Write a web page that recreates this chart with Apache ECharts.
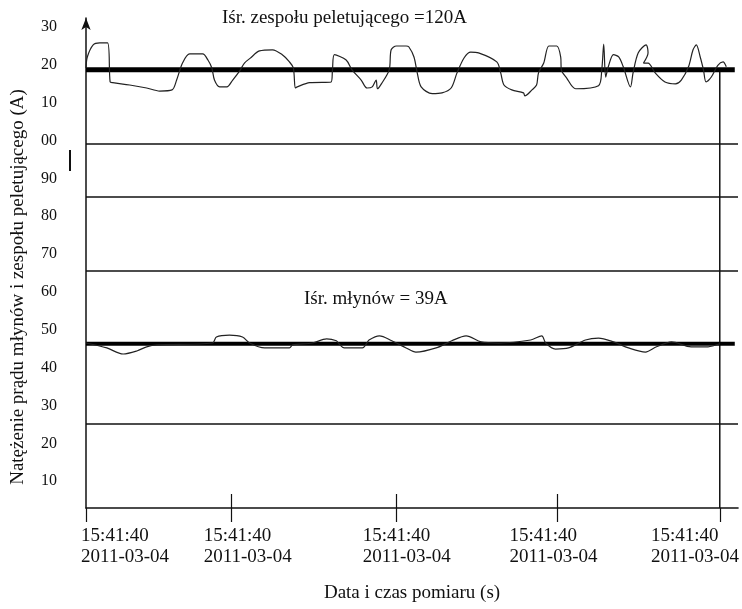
<!DOCTYPE html>
<html>
<head>
<meta charset="utf-8">
<script src="https://cdn.jsdelivr.net/npm/echarts@6/dist/echarts.min.js"></script>
<style>
  html, body { margin: 0; padding: 0; background: #fff; }
  #chart { width: 742px; height: 609px; }
</style>
</head>
<body>
<div id="chart"></div>
<script>
// y axis: labels are printed with the hundreds digit cut off (130 -> "30")
const yTickValues = [10, 20, 30, 40, 50, 60, 70, 80, 90, 100, 110, 120, 130]
const yTickLabels = ['10', '20', '30', '40', '50', '60', '70', '80', '90', '00', '10', '20', '30']

// x axis (measurement progress, 0-100 %), every label is the same timestamp
const xLabelPos = [6.0, 24.8, 49.2, 71.7, 93.4]
const xTickTimes = ['15:41:40', '15:41:40', '15:41:40', '15:41:40', '15:41:40']
const xTickDates = ['2011-03-04', '2011-03-04', '2011-03-04', '2011-03-04', '2011-03-04']
const xTickUp = [22.3, 47.6, 72.2]
const xTickDown = [0, 22.3, 47.6, 72.2, 97.2]

const gridLevels = [99.1, 85.1, 65.6, 25.1]
const meanPellet = 118.7
const meanMill = 46.3
const endX = 97.2

// prąd zespołu peletującego [x, A]
const pelletData = [
  [0, 119.2], [0.2, 122.1], [1.1, 125.3], [2.1, 125.8], [3.3, 125.8], [3.7, 115.5],
  [4.1, 115.3], [6.7, 114.7], [9.3, 113.9], [11.3, 113.1], [13.2, 113.4], [13.9, 116.0],
  [14.8, 120.5], [15.9, 122.9], [17.9, 122.9], [18.7, 121.3], [19.3, 119.2], [19.7, 116.0],
  [20.5, 114.2], [21.6, 114.2], [22.5, 116.0], [23.6, 118.5], [24.3, 120.5], [25.2, 121.8],
  [26.6, 123.7], [28.6, 124.0], [30.1, 122.7], [31.2, 120.8], [31.8, 119.2], [32.1, 113.9],
  [32.4, 114.2], [34.3, 115.3], [37.6, 115.5], [37.8, 118.7], [38.1, 122.7], [39.9, 121.3],
  [40.8, 118.7], [42.2, 116.0], [43.1, 113.9], [43.9, 114.2], [44.5, 116.0], [44.7, 113.7],
  [45.3, 115.0], [46.5, 118.7], [46.8, 124.0], [47.6, 125.0], [49.1, 125.0], [49.5, 124.8],
  [50.3, 122.1], [50.8, 117.9], [51.4, 114.2], [53.1, 112.4], [54.6, 112.6], [56.0, 113.9],
  [56.9, 117.9], [58.0, 121.9], [59.0, 123.4], [60.2, 123.2], [63.0, 120.8], [63.6, 117.9],
  [64.1, 114.7], [65.3, 113.4], [67.1, 112.6], [67.3, 111.8], [68.4, 113.4], [69.1, 114.7],
  [69.4, 117.9], [70.2, 120.5], [71.0, 125.0], [72.2, 125.0], [72.8, 122.1], [72.9, 118.7],
  [73.7, 116.6], [75.1, 113.7], [78.6, 114.5], [79.1, 118.7], [79.4, 125.5], [79.7, 116.8],
  [80.1, 119.5], [80.9, 122.7], [81.7, 122.1], [82.4, 119.5], [83.5, 114.2], [83.9, 117.9],
  [84.7, 123.2], [85.9, 125.3], [86.2, 123.2], [85.5, 120.5], [86.2, 120.5], [87.3, 117.9],
  [88.8, 115.5], [90.4, 115.0], [91.3, 116.0], [92.4, 119.5], [93.1, 124.0], [93.6, 125.3],
  [94.2, 122.1], [94.7, 118.7], [95.1, 115.5], [95.9, 116.8], [96.9, 119.9], [97.7, 120.8],
  [98.2, 119.5]
]

// prąd młynów [x, A]
const millData = [
  [0, 46.5], [3.2, 45.2], [5.7, 43.6], [7.8, 44.4], [9.3, 45.5], [10.9, 46.0],
  [19.4, 46.5], [20.0, 48.1], [22.0, 48.6], [24.0, 48.1], [25.1, 46.5], [27.4, 45.2],
  [31.2, 45.2], [31.7, 46.0], [34.7, 46.5], [36.9, 47.6], [38.4, 47.1], [38.8, 46.3],
  [39.6, 45.2], [42.4, 45.2], [43.0, 46.3], [43.4, 47.3], [45.0, 48.4], [46.9, 47.1],
  [49.1, 45.2], [50.6, 44.1], [53.7, 45.2], [56.1, 47.1], [58.3, 48.4], [60.6, 46.8],
  [63.3, 46.5], [68.2, 47.3], [69.9, 48.4], [70.5, 46.5], [72.0, 44.9], [74.0, 45.2],
  [76.6, 47.3], [78.6, 47.8], [80.9, 46.8], [83.2, 45.2], [85.8, 44.1], [87.5, 45.5],
  [89.8, 46.8], [92.8, 45.5], [95.4, 45.5], [97.2, 46.3]
]

const font = 'Liberation Serif, Times New Roman, serif'
const chart = echarts.init(document.getElementById('chart'))

chart.setOption({
  animation: false,
  grid: { left: 86, right: 2, top: 18, bottom: 101 },
  xAxis: [
    {
      type: 'value',
      min: 0,
      max: 100,
      name: 'Data i czas pomiaru (s)',
      nameLocation: 'middle',
      nameGap: 76,
      nameTextStyle: { fontFamily: font, fontSize: 19, color: '#111' },
      axisLine: { lineStyle: { color: '#111', width: 1.5 } },
      axisTick: {
        show: true,
        inside: true,
        length: 14,
        customValues: xTickUp,
        lineStyle: { color: '#111', width: 1.2 }
      },
      axisLabel: {
        customValues: xLabelPos,
        margin: 18,
        color: '#111',
        formatter: v => {
          const i = xLabelPos.indexOf(v)
          return i >= 0 ? '{t|' + xTickTimes[i] + '}\n{t|' + xTickDates[i] + '}' : ''
        },
        rich: {
          t: { fontFamily: font, fontSize: 19, lineHeight: 21, width: 88, align: 'left', color: '#111' }
        }
      },
      splitLine: { show: false }
    },
    {
      type: 'value',
      min: 0,
      max: 100,
      position: 'bottom',
      axisLine: { show: false },
      axisTick: {
        show: true,
        length: 14,
        customValues: xTickDown,
        lineStyle: { color: '#111', width: 1.2 }
      },
      axisLabel: { show: false },
      splitLine: { show: false }
    }
  ],
  yAxis: {
    type: 'value',
    min: 2.9,
    max: 132.4,
    name: 'Natężenie prądu młynów i zespołu peletującego (A)',
    nameLocation: 'middle',
    nameRotate: 90,
    nameGap: 58,
    nameTextStyle: { fontFamily: font, fontSize: 19, color: '#111', padding: [0, 48, 0, 0] },
    axisLine: {
      show: true,
      symbol: ['none', 'arrow'],
      symbolSize: [7, 12],
      lineStyle: { color: '#111', width: 1.5 }
    },
    axisTick: { show: false },
    axisLabel: {
      customValues: yTickValues,
      margin: 29,
      fontFamily: font,
      fontSize: 16,
      color: '#111',
      formatter: v => {
        const i = yTickValues.indexOf(v)
        return i >= 0 ? yTickLabels[i] : ''
      }
    },
    splitLine: { show: false }
  },
  graphic: [
    {
      type: 'text',
      left: 222,
      top: 9,
      style: { text: 'Iśr. zespołu peletującego =120A', font: '19px ' + font, fill: '#111' }
    },
    {
      type: 'text',
      left: 304,
      top: 290,
      style: { text: 'Iśr. młynów = 39A', font: '19px ' + font, fill: '#111' }
    },
    {
      type: 'rect',
      shape: { x: 69, y: 150, width: 2, height: 21 },
      style: { fill: '#111' }
    }
  ],
  series: [
    {
      name: 'siatka',
      type: 'line',
      data: [],
      markLine: {
        silent: true,
        symbol: 'none',
        label: { show: false },
        lineStyle: { color: '#111', width: 1.5, type: 'solid' },
        data: gridLevels.map(v => ({ yAxis: v }))
      }
    },
    {
      name: 'koniec',
      type: 'line',
      data: [[endX, 2.9], [endX, meanPellet]],
      showSymbol: false,
      lineStyle: { color: '#111', width: 1.5 }
    },
    {
      name: 'Iśr. młynów',
      type: 'line',
      data: [[0, meanMill], [99.5, meanMill]],
      showSymbol: false,
      lineStyle: { color: '#000', width: 4 }
    },
    {
      name: 'młyny',
      type: 'line',
      data: millData,
      showSymbol: false,
      smooth: 0.3,
      lineStyle: { color: '#222', width: 1.2 }
    },
    {
      name: 'Iśr. zespołu',
      type: 'line',
      data: [[0, meanPellet], [99.5, meanPellet]],
      showSymbol: false,
      lineStyle: { color: '#000', width: 5 }
    },
    {
      name: 'zespół peletujący',
      type: 'line',
      data: pelletData,
      showSymbol: false,
      smooth: 0.3,
      lineStyle: { color: '#222', width: 1.2 }
    }
  ]
})
</script>
</body>
</html>
